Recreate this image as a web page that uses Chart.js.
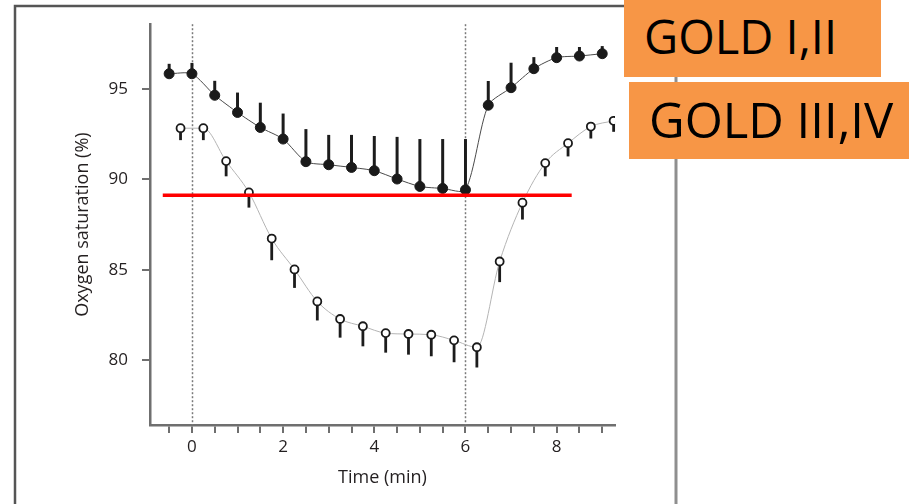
<!DOCTYPE html>
<html>
<head>
<meta charset="utf-8">
<script src="https://cdn.jsdelivr.net/npm/chart.js@4.4.1/dist/chart.umd.min.js"></script>
<style>
  html, body { margin: 0; padding: 0; background: #fff; }
  #wrap { position: relative; width: 909px; height: 504px; overflow: hidden; }
  #c { position: absolute; left: 0; top: 0; }
  .tag {
    position: absolute; box-sizing: border-box; background: #f79646; color: #000;
    font-family: "Open Sans", "Noto Sans", sans-serif; white-space: nowrap;
  }
</style>
</head>
<body>
<div id="wrap">
  <canvas id="c" width="909" height="504"></canvas>
  <div class="tag" style="left:624px;top:0;width:257px;height:77px;padding:13px 0 0 20px;font-size:47px;line-height:47px;">GOLD I,II</div>
  <div class="tag" style="left:629px;top:82px;width:280px;height:77px;padding:13px 0 0 20px;font-size:49px;line-height:49px;">GOLD III,IV</div>
</div>
<script>
// GOLD I,II (filled markers): time, mean SpO2, SD (drawn upward)
const timeMild = [-0.5, 0, 0.5, 1, 1.5, 2, 2.5, 3, 3.5, 4, 4.5, 5, 5.5, 6, 6.5, 7, 7.5, 8, 8.5, 9];
const satMild  = [95.84, 95.84, 94.65, 93.70, 92.87, 92.23, 90.98, 90.81, 90.66, 90.48,
                  90.02, 89.61, 89.50, 89.42, 94.10, 95.07, 96.12, 96.73, 96.82, 96.95];
const sdMild   = [0.55, 0.60, 0.80, 1.10, 1.37, 1.41, 1.80, 1.65, 1.80, 1.92,
                  2.33, 2.62, 2.73, 2.81, 1.34, 1.38, 0.64, 0.59, 0.50, 0.42];

// GOLD III,IV (open markers): time, mean SpO2, SD (drawn downward)
const timeSevere = [-0.25, 0.25, 0.75, 1.25, 1.75, 2.25, 2.75, 3.25, 3.75, 4.25,
                    4.75, 5.25, 5.75, 6.25, 6.75, 7.25, 7.75, 8.25, 8.75, 9.25];
const satSevere  = [92.83, 92.83, 91.01, 89.28, 86.73, 85.02, 83.25, 82.28, 81.88, 81.50,
                    81.45, 81.41, 81.10, 80.72, 85.46, 88.71, 90.90, 92.00, 92.92, 93.24];
const sdSevere   = [0.66, 0.66, 0.84, 0.84, 1.20, 1.02, 1.05, 1.03, 1.11, 1.08,
                    1.14, 1.19, 1.21, 1.12, 1.14, 0.93, 0.73, 0.73, 0.66, 0.61];

// Axis ticks
const xTicks = [-0.5, 0, 0.5, 1, 1.5, 2, 2.5, 3, 3.5, 4, 4.5, 5, 5.5, 6, 6.5, 7, 7.5, 8, 8.5, 9];
const xLabelled = [0, 2, 4, 6, 8];
const yTicks = [80, 85, 90, 95];

// Start and end of the walk (dotted verticals)
const walkMarks = [0, 6];

// 89% desaturation cut-off
const cutoffSat = 89.12;
const cutoffSpan = [-0.64, 8.33];

const INK = '#231f20';
const AXIS = '#6f6f6f';
const FONT = '"Open Sans", sans-serif';

const toPoints = (xs, ys) => xs.map((x, i) => ({ x: x, y: ys[i] }));

// Outer frame, dotted walk markers and SD whiskers
const decorations = {
  id: 'decorations',
  beforeDraw(chart) {
    const ctx = chart.ctx;
    ctx.save();
    ctx.lineCap = 'butt';
    ctx.strokeStyle = '#555';
    ctx.lineWidth = 2.5;
    ctx.beginPath();
    ctx.moveTo(15, 520);
    ctx.lineTo(15, 6);
    ctx.lineTo(676, 6);
    ctx.stroke();
    ctx.strokeStyle = '#8f8f8f';
    ctx.lineWidth = 3;
    ctx.beginPath();
    ctx.moveTo(676, 6);
    ctx.lineTo(676, 520);
    ctx.stroke();
    ctx.restore();
  },
  beforeDatasetsDraw(chart) {
    const { ctx, chartArea, scales: { x, y } } = chart;
    ctx.save();
    ctx.strokeStyle = '#7a7a7a';
    ctx.lineWidth = 1.5;
    ctx.setLineDash([2, 2]);
    walkMarks.forEach(t => {
      const px = Math.round(x.getPixelForValue(t)) + 0.5;
      ctx.beginPath();
      ctx.moveTo(px, chartArea.top);
      ctx.lineTo(px, chartArea.bottom);
      ctx.stroke();
    });
    ctx.setLineDash([]);
    ctx.strokeStyle = '#1c1c1c';
    ctx.lineCap = 'butt';
    ctx.lineWidth = 3;
    timeMild.forEach((t, i) => {
      const px = x.getPixelForValue(t);
      ctx.beginPath();
      ctx.moveTo(px, y.getPixelForValue(satMild[i]));
      ctx.lineTo(px, y.getPixelForValue(satMild[i] + sdMild[i]));
      ctx.stroke();
    });
    ctx.lineWidth = 2.8;
    timeSevere.forEach((t, i) => {
      const px = x.getPixelForValue(t);
      ctx.beginPath();
      ctx.moveTo(px, y.getPixelForValue(satSevere[i]));
      ctx.lineTo(px, y.getPixelForValue(satSevere[i] - sdSevere[i]));
      ctx.stroke();
    });
    ctx.restore();
  }
};

new Chart(document.getElementById('c'), {
  type: 'line',
  data: {
    datasets: [
      {
        label: 'cut-off',
        data: toPoints(cutoffSpan, [cutoffSat, cutoffSat]),
        borderColor: '#ff0000',
        borderWidth: 3.5,
        pointRadius: 0,
        order: 0
      },
      {
        label: 'GOLD I,II',
        data: toPoints(timeMild, satMild),
        borderColor: '#4a4a4a',
        borderWidth: 1,
        tension: 0.25,
        pointRadius: 5,
        pointBackgroundColor: '#1a1a1a',
        pointBorderColor: '#1a1a1a',
        pointBorderWidth: 1,
        order: 1
      },
      {
        label: 'GOLD III,IV',
        data: toPoints(timeSevere, satSevere),
        borderColor: '#b4b4b4',
        borderWidth: 1,
        cubicInterpolationMode: 'monotone',
        pointRadius: 4,
        pointBackgroundColor: '#ffffff',
        pointBorderColor: '#1a1a1a',
        pointBorderWidth: 1.8,
        order: 2
      }
    ]
  },
  options: {
    responsive: false,
    animation: false,
    devicePixelRatio: 1,
    layout: { padding: { left: 70, top: 23, right: 294, bottom: 0 } },
    plugins: { legend: { display: false }, tooltip: { enabled: false } },
    scales: {
      x: {
        type: 'linear',
        min: -0.92,
        max: 9.28,
        afterFit(scale) { scale.height = 79; },
        afterBuildTicks(scale) { scale.ticks = xTicks.map(v => ({ value: v })); },
        border: { display: true, color: AXIS, width: 2.5 },
        grid: { drawOnChartArea: false, drawTicks: true, tickLength: 8, tickColor: AXIS, lineWidth: 2 },
        ticks: {
          autoSkip: false, maxRotation: 0, padding: 4, color: INK,
          font: { family: FONT, size: 17 },
          callback: v => (xLabelled.includes(v) ? String(v) : '')
        },
        title: {
          display: true, text: 'Time (min)', color: INK,
          font: { family: FONT, size: 18 },
          padding: { top: 0, bottom: 15 }
        }
      },
      y: {
        type: 'linear',
        min: 76.42,
        max: 98.58,
        afterFit(scale) { scale.width = 80; },
        afterBuildTicks(scale) { scale.ticks = yTicks.map(v => ({ value: v })); },
        border: { display: true, color: AXIS, width: 2.5 },
        grid: { drawOnChartArea: false, drawTicks: true, tickLength: 8, tickColor: AXIS, lineWidth: 2 },
        ticks: {
          padding: 14, color: INK,
          font: { family: FONT, size: 17 }
        },
        title: {
          display: true, text: 'Oxygen saturation (%)', color: INK,
          font: { family: FONT, size: 18 },
          padding: { top: 2, bottom: 0 }
        }
      }
    }
  },
  plugins: [decorations]
});
</script>
</body>
</html>
